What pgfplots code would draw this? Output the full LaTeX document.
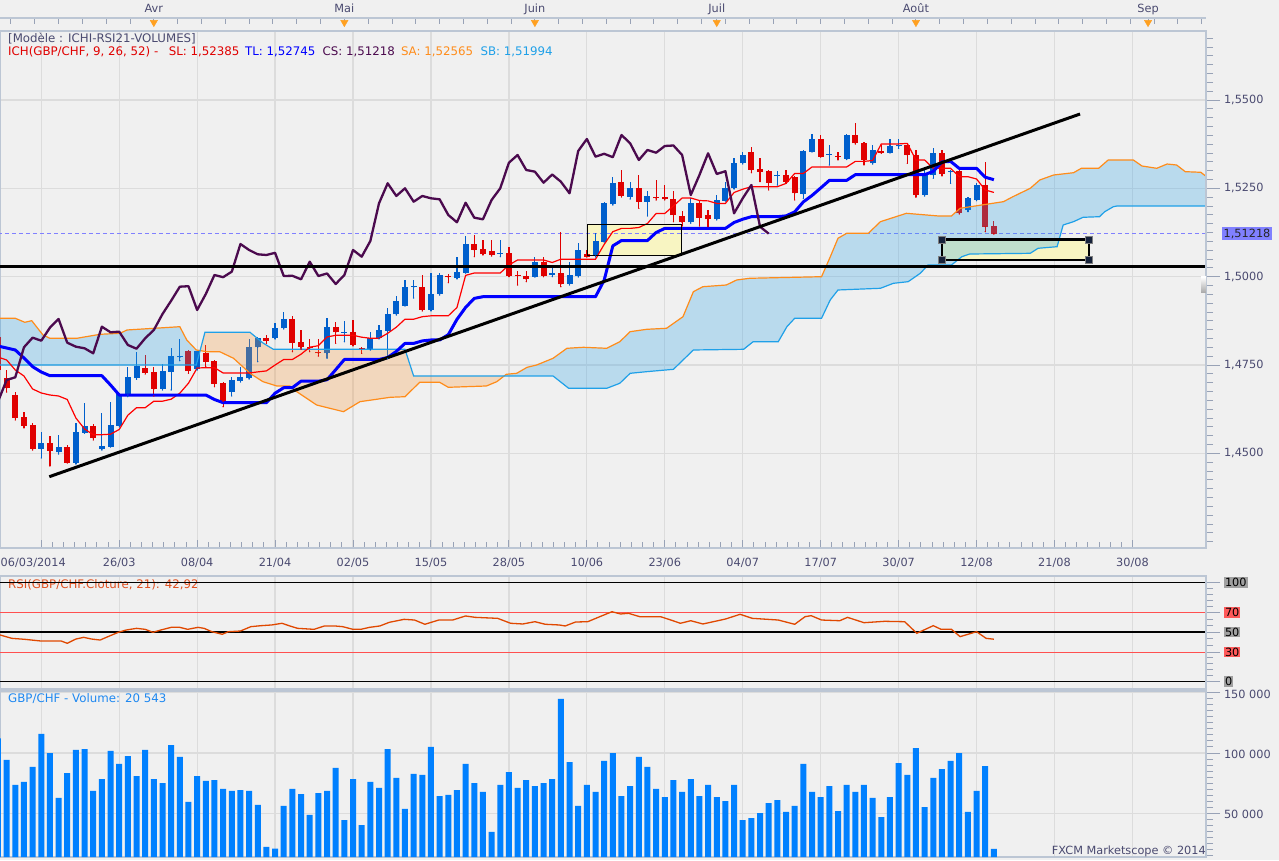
\documentclass[border=0pt]{standalone}
\usepackage{fontspec}
\setmainfont{DejaVu Sans}
\usepackage{pgfplots}
\pgfplotsset{compat=1.18}
\usepackage{pgfplotstable}

\definecolor{bgc}{HTML}{F0F0F0}
\definecolor{gridc}{HTML}{DCDCDC}
\definecolor{borderc}{HTML}{BCC6D4}
\definecolor{tickc}{HTML}{98A2B6}
\definecolor{labc}{HTML}{4A4A70}
\definecolor{upc}{HTML}{005FCC}
\definecolor{dnc}{HTML}{E00000}
\definecolor{tenc}{HTML}{FF0000}
\definecolor{kijc}{HTML}{0000FF}
\definecolor{chic}{HTML}{4B0A4E}
\definecolor{sac}{HTML}{FF8C1A}
\definecolor{sbc}{HTML}{1FA0E8}
\definecolor{cloudb}{HTML}{28A0E8}
\definecolor{cloudp}{HTML}{F89434}
\definecolor{volc}{HTML}{0080FF}
\definecolor{rsic}{HTML}{E04800}
\definecolor{rsired}{HTML}{FF5050}
\definecolor{yelc}{HTML}{F8F5C2}
\definecolor{dashc}{HTML}{8080FF}
\definecolor{pricebox}{HTML}{8080FF}
\definecolor{graybox}{HTML}{A0A0A0}
\definecolor{redbox}{HTML}{FF5A5A}
\definecolor{handlec}{HTML}{16223A}
\definecolor{monthc}{HTML}{FFA020}
\definecolor{volt}{HTML}{1E88F0}
\definecolor{rsit}{HTML}{E05020}

\newcommand\gb[1]{{\setlength{\fboxsep}{1pt}\colorbox{graybox}{\textcolor{black}{#1}}}}
\newcommand\rb[1]{{\setlength{\fboxsep}{1pt}\colorbox{redbox}{\textcolor{black}{#1}}}}

\pgfplotstableread{
d o h l c
-9 1.45124 1.45614 1.44869 1.45302
-7 1.45031 1.45520 1.44982 1.45189
-5 1.44736 1.45851 1.44700 1.45614
-4 1.45585 1.46417 1.45570 1.45775
-2 1.45115 1.46134 1.45096 1.45209
-1 1.45189 1.46446 1.45180 1.45803
0 1.45783 1.46709 1.45747 1.46672
1 1.46652 1.47436 1.46604 1.47153
2 1.47125 1.47861 1.47096 1.47473
5 1.46822 1.47529 1.46794 1.47331
6 1.47312 1.47974 1.46794 1.47756
7 1.47719 1.48228 1.47623 1.47747
9 1.47379 1.47926 1.47360 1.47897
13 1.46746 1.47170 1.46624 1.47077
14 1.47057 1.47436 1.47020 1.47153
15 1.47125 1.48228 1.47105 1.48002
16 1.48002 1.48294 1.47595 1.48274
18 1.48257 1.48681 1.48237 1.48557
19 1.48540 1.48993 1.48520 1.48803
24 1.47832 1.48823 1.47691 1.48585
26 1.48415 1.48746 1.48160 1.48444
29 1.47945 1.48444 1.47926 1.48257
30 1.48257 1.48633 1.48237 1.48492
31 1.48472 1.49106 1.47691 1.48944
32 1.48936 1.49454 1.48916 1.49321
33 1.49179 1.49907 1.49171 1.49717
34 1.49703 1.49907 1.49397 1.49731
36 1.49058 1.50096 1.49030 1.49510
37 1.49510 1.50096 1.49482 1.50048
39 1.49955 1.50566 1.49935 1.50142
40 1.50113 1.51160 1.50105 1.50925
44 1.50648 1.51039 1.50566 1.50676
48 1.50000 1.50566 1.49992 1.50425
50 1.50062 1.50303 1.50000 1.50091
52 1.49793 1.50425 1.49765 1.50048
53 1.50020 1.50945 1.49992 1.50756
55 1.50586 1.51245 1.50558 1.51010
56 1.50991 1.52114 1.50982 1.52077
57 1.52049 1.52830 1.52029 1.52643
59 1.52264 1.52689 1.52199 1.52502
61 1.52123 1.52434 1.51718 1.52284
66 1.51540 1.52219 1.51512 1.52094
69 1.51624 1.52312 1.51605 1.52171
70 1.52151 1.52689 1.52142 1.52502
71 1.52502 1.53351 1.52482 1.53226
72 1.53209 1.53538 1.53189 1.53444
76 1.52864 1.53000 1.52595 1.52892
79 1.52340 1.53586 1.52219 1.53557
80 1.53538 1.54038 1.53529 1.53897
82 1.53450 1.53727 1.53161 1.53478
84 1.53331 1.54038 1.53317 1.54010
87 1.53209 1.53727 1.53189 1.53586
89 1.53509 1.53888 1.53501 1.53699
90 1.53685 1.53888 1.53634 1.53713
93 1.52312 1.53020 1.52284 1.52878
94 1.52878 1.53634 1.52785 1.53492
96 1.52957 1.53020 1.52643 1.52986
98 1.51888 1.52256 1.51840 1.52219
99 1.52171 1.52643 1.52151 1.52595
}\upcandles

\pgfplotstableread{
d o h l c
-14 1.48302 1.48407 1.47275 1.47360
-13 1.47133 1.47360 1.46737 1.46850
-12 1.46652 1.46737 1.45945 1.46001
-11 1.46038 1.46171 1.45718 1.45775
-10 1.45803 1.45860 1.45096 1.45124
-8 1.45302 1.45500 1.44643 1.45067
-6 1.45189 1.45237 1.44728 1.44736
-3 1.45775 1.45823 1.45379 1.45427
3 1.47408 1.47784 1.47246 1.47283
4 1.47312 1.47453 1.46624 1.46822
8 1.47897 1.47926 1.47266 1.47331
10 1.47849 1.48067 1.47453 1.47595
11 1.47614 1.47643 1.46887 1.46963
12 1.46983 1.47020 1.46321 1.46463
17 1.48257 1.48350 1.48115 1.48189
20 1.48794 1.48888 1.47878 1.48132
21 1.48144 1.48492 1.47945 1.48019
22 1.48019 1.48228 1.47878 1.47974
23 1.47869 1.48228 1.47756 1.47832
25 1.48585 1.48710 1.48115 1.48427
27 1.48427 1.48775 1.48039 1.48067
28 1.47991 1.48019 1.47832 1.47962
35 1.49717 1.50048 1.49030 1.49058
38 1.50014 1.50076 1.49830 1.49986
41 1.50925 1.51180 1.50566 1.50756
42 1.50775 1.51039 1.50614 1.50634
43 1.50741 1.51039 1.50586 1.50614
45 1.50662 1.50849 1.50000 1.50020
46 1.50054 1.50170 1.49765 1.50025
47 1.50020 1.50161 1.49859 1.49926
49 1.50425 1.50566 1.50000 1.50020
51 1.50096 1.51274 1.49717 1.49793
54 1.50642 1.50756 1.50558 1.50566
58 1.52689 1.53020 1.52256 1.52284
60 1.52502 1.52878 1.51936 1.52123
62 1.52264 1.52737 1.52171 1.52219
63 1.52247 1.52595 1.52171 1.52190
64 1.52199 1.52434 1.51557 1.51746
65 1.51726 1.51868 1.51435 1.51540
67 1.52094 1.52171 1.51435 1.51670
68 1.51746 1.51888 1.51415 1.51624
73 1.53538 1.53679 1.52943 1.53020
74 1.53039 1.53368 1.52689 1.52972
75 1.52991 1.53020 1.52454 1.52660
77 1.52878 1.53020 1.52643 1.52689
78 1.52830 1.52850 1.52171 1.52360
81 1.53897 1.54010 1.53387 1.53396
83 1.53410 1.53538 1.53303 1.53382
85 1.54010 1.54358 1.53755 1.53775
86 1.53775 1.53812 1.53161 1.53303
88 1.53566 1.53727 1.53492 1.53509
91 1.53727 1.53755 1.53209 1.53444
92 1.53444 1.53586 1.52247 1.52312
95 1.53509 1.53586 1.52850 1.52906
97 1.53000 1.53048 1.51774 1.51794
100 1.52595 1.53255 1.51274 1.51415
101 1.51435 1.51576 1.51208 1.51218
}\dncandles

\pgfplotstableread{
d p
-14 1.47727
-13 1.47643
-12 1.47360
-11 1.47190
-10 1.46822
-9 1.46709
-8 1.46652
-7 1.46624
-6 1.46525
-5 1.46001
-4 1.45690
-3 1.45529
-2 1.45529
-1 1.45543
0 1.45676
1 1.46080
2 1.46293
3 1.46293
4 1.46477
5 1.46477
6 1.46533
7 1.46703
8 1.46986
9 1.47416
10 1.47425
11 1.47425
12 1.47275
13 1.47275
14 1.47275
15 1.47275
16 1.47306
17 1.47334
18 1.47501
19 1.47657
20 1.47657
21 1.47807
22 1.48005
23 1.48047
24 1.48294
25 1.48342
26 1.48342
27 1.48342
28 1.48288
29 1.48257
30 1.48257
31 1.48398
32 1.48571
33 1.48797
34 1.48797
35 1.48868
36 1.48893
37 1.48893
38 1.48893
39 1.49128
40 1.50037
41 1.50105
42 1.50105
43 1.50105
44 1.50105
45 1.50331
46 1.50473
47 1.50473
48 1.50473
49 1.50473
50 1.50402
51 1.50495
52 1.50495
53 1.50495
54 1.50495
55 1.50495
56 1.50914
57 1.51274
58 1.51367
59 1.51367
60 1.51392
61 1.51506
62 1.51789
63 1.51789
64 1.52001
65 1.52227
66 1.52227
67 1.52156
68 1.52145
69 1.52074
70 1.52074
71 1.52383
72 1.52476
73 1.52547
74 1.52547
75 1.52547
76 1.52547
77 1.52640
78 1.52923
79 1.52923
80 1.53105
81 1.53105
82 1.53105
83 1.53105
84 1.53105
85 1.53263
86 1.53263
87 1.53288
88 1.53758
89 1.53758
90 1.53758
91 1.53772
92 1.53303
93 1.53303
94 1.53068
95 1.53068
96 1.53068
97 1.52830
98 1.52830
99 1.52765
100 1.52454
101 1.52385
}\tenkan

\pgfplotstableread{
d p
-14 1.48039
-13 1.47982
-12 1.47926
-11 1.47699
-10 1.47453
-9 1.47303
-8 1.47198
-7 1.47198
-6 1.47198
-5 1.47198
-4 1.47198
-3 1.47198
-2 1.47198
-1 1.46935
0 1.46652
1 1.46652
2 1.46652
3 1.46652
4 1.46652
5 1.46652
6 1.46652
7 1.46652
8 1.46652
9 1.46652
10 1.46652
11 1.46525
12 1.46434
13 1.46434
14 1.46434
15 1.46434
16 1.46434
17 1.46434
18 1.46703
19 1.46859
20 1.46859
21 1.47043
22 1.47043
23 1.47043
24 1.47085
25 1.47368
26 1.47657
27 1.47657
28 1.47657
29 1.47657
30 1.47657
31 1.47713
32 1.47886
33 1.48112
34 1.48112
35 1.48183
36 1.48209
37 1.48209
38 1.48359
39 1.48792
40 1.49131
41 1.49386
42 1.49434
43 1.49434
44 1.49434
45 1.49434
46 1.49434
47 1.49434
48 1.49434
49 1.49434
50 1.49434
51 1.49434
52 1.49434
53 1.49434
54 1.49434
55 1.49434
56 1.49901
57 1.50872
58 1.51024
59 1.51024
60 1.51024
61 1.51024
62 1.51251
63 1.51367
64 1.51367
65 1.51367
66 1.51367
67 1.51367
68 1.51367
69 1.51367
70 1.51367
71 1.51534
72 1.51627
73 1.51698
74 1.51698
75 1.51698
76 1.51698
77 1.51721
78 1.51834
79 1.52117
80 1.52298
81 1.52510
82 1.52725
83 1.52725
84 1.52725
85 1.52887
86 1.52887
87 1.52887
88 1.52887
89 1.52887
90 1.52887
91 1.52887
92 1.52887
93 1.52887
94 1.52980
95 1.53249
96 1.53263
97 1.53065
98 1.53065
99 1.53065
100 1.52816
101 1.52745
}\kijun

\pgfplotstableread{
d p
-14 1.46463
-13 1.47077
-12 1.47153
-11 1.48002
-10 1.48274
-9 1.48189
-8 1.48557
-7 1.48803
-6 1.48132
-5 1.48019
-4 1.47974
-3 1.47832
-2 1.48585
-1 1.48427
0 1.48444
1 1.48067
2 1.47962
3 1.48257
4 1.48492
5 1.48944
6 1.49321
7 1.49717
8 1.49731
9 1.49058
10 1.49510
11 1.50048
12 1.49986
13 1.50142
14 1.50925
15 1.50756
16 1.50634
17 1.50614
18 1.50676
19 1.50020
20 1.50025
21 1.49926
22 1.50425
23 1.50020
24 1.50091
25 1.49793
26 1.50048
27 1.50756
28 1.50566
29 1.51010
30 1.52077
31 1.52643
32 1.52284
33 1.52502
34 1.52123
35 1.52284
36 1.52219
37 1.52190
38 1.51746
39 1.51540
40 1.52094
41 1.51670
42 1.51624
43 1.52171
44 1.52502
45 1.53226
46 1.53444
47 1.53020
48 1.52972
49 1.52660
50 1.52892
51 1.52689
52 1.52360
53 1.53557
54 1.53897
55 1.53396
56 1.53478
57 1.53382
58 1.54010
59 1.53775
60 1.53303
61 1.53586
62 1.53509
63 1.53699
64 1.53713
65 1.53444
66 1.52312
67 1.52878
68 1.53492
69 1.52906
70 1.52986
71 1.51794
72 1.52219
73 1.52595
74 1.51415
75 1.51218
}\chikou

\pgfplotstableread{
d p
-14 1.48823
-12 1.48823
-10.9 1.48710
-10.1 1.48755
-8.8 1.48350
-8 1.48257
-4.9 1.48257
-2.2 1.48370
0.1 1.48398
0.9 1.48492
7 1.48585
7.8 1.48209
8.9 1.47926
10.1 1.47878
11.6 1.47878
13.2 1.47691
15.1 1.47266
16.6 1.47029
18.2 1.46907
19.7 1.46907
20.5 1.46746
22.8 1.46369
25.9 1.46180
27.8 1.46463
31.3 1.46587
33 1.46604
34.7 1.47012
37 1.47012
38 1.46870
42.4 1.46907
43.6 1.47029
44.7 1.47238
45.9 1.47266
47.1 1.47436
48.2 1.47501
50.1 1.47691
51.7 1.47974
53.6 1.48002
56.3 1.47974
57.8 1.48160
59 1.48444
60.9 1.48511
63.2 1.48540
65.1 1.48868
66.3 1.49576
67.4 1.49717
70.1 1.49765
71.3 1.49907
72.8 1.49955
81.1 1.50000
82.1 1.50558
83 1.51087
84 1.51228
86.5 1.51228
87.9 1.51557
90.9 1.51794
94.6 1.51718
96.1 1.51718
97.1 1.51936
102.1 1.52123
103.2 1.52264
105.2 1.52502
106.3 1.52737
107.9 1.52878
110.2 1.52943
111.1 1.53068
113.1 1.53068
114.2 1.53303
117.1 1.53303
118.1 1.53133
119.8 1.53068
121 1.53189
122.1 1.53161
123.1 1.52972
124.9 1.52955
126 1.52737
}\senkouA

\pgfplotstableread{
d p
-14 1.47501
8.9 1.47501
9.9 1.48427
15.1 1.48427
16.6 1.48124
17.8 1.47945
33 1.47945
34 1.47190
50.1 1.47190
51.9 1.46842
56.3 1.46842
57.8 1.46983
59 1.47266
60.9 1.47312
64 1.47379
65.5 1.47736
66.3 1.47926
72.1 1.47945
73.2 1.48160
76.1 1.48160
77.1 1.48585
78 1.48823
81.1 1.48823
82.1 1.49341
83 1.49624
87.9 1.49672
89.4 1.49813
91.1 1.49859
92.5 1.50096
93.4 1.50331
96.1 1.50331
97.3 1.50566
98.2 1.50642
105.2 1.50662
106.1 1.50804
108.3 1.50849
109 1.51463
110.2 1.51557
111.3 1.51681
113.2 1.51698
113.8 1.51840
114.8 1.51981
115.2 1.52000
126 1.52000
}\senkouB

\pgfplotstableread{
d p
-14 1.48823
-12 1.48823
-10.9 1.48710
-10.1 1.48755
-8.8 1.48350
-8 1.48257
-4.9 1.48257
-2.2 1.48370
0.1 1.48398
0.9 1.48492
7 1.48585
7.8 1.48209
8.9 1.47926
9.36 1.47910
8.9 1.47501
-14 1.47501
}\cloudone
\pgfplotstableread{
d p
9.36 1.47910
9.9 1.48427
15.1 1.48427
16.6 1.48124
17.8 1.47945
33 1.47945
34 1.47190
44.45 1.47190
43.6 1.47029
42.4 1.46907
38 1.46870
37 1.47012
34.7 1.47012
33 1.46604
31.3 1.46587
27.8 1.46463
25.9 1.46180
22.8 1.46369
20.5 1.46746
19.7 1.46907
18.2 1.46907
16.6 1.47029
15.1 1.47266
13.2 1.47691
11.6 1.47878
10.1 1.47878
}\cloudtwo
\pgfplotstableread{
d p
44.45 1.47190
44.7 1.47238
45.9 1.47266
47.1 1.47436
48.2 1.47501
50.1 1.47691
51.7 1.47974
53.6 1.48002
56.3 1.47974
57.8 1.48160
59 1.48444
60.9 1.48511
63.2 1.48540
65.1 1.48868
66.3 1.49576
67.4 1.49717
70.1 1.49765
71.3 1.49907
72.8 1.49955
81.1 1.50000
82.1 1.50558
83 1.51087
84 1.51228
86.5 1.51228
87.9 1.51557
90.9 1.51794
94.6 1.51718
96.1 1.51718
97.1 1.51936
102.1 1.52123
103.2 1.52264
105.2 1.52502
106.3 1.52737
107.9 1.52878
110.2 1.52943
111.1 1.53068
113.1 1.53068
114.2 1.53303
117.1 1.53303
118.1 1.53133
119.8 1.53068
121 1.53189
122.1 1.53161
123.1 1.52972
124.9 1.52955
126 1.52737
126 1.52000
115.2 1.52000
114.8 1.51981
113.8 1.51840
113.2 1.51698
111.3 1.51681
110.2 1.51557
109 1.51463
108.3 1.50849
106.1 1.50804
105.2 1.50662
98.2 1.50642
97.3 1.50566
96.1 1.50331
93.4 1.50331
92.5 1.50096
91.1 1.49859
89.4 1.49813
87.9 1.49672
83 1.49624
82.1 1.49341
81.1 1.48823
78 1.48823
77.1 1.48585
76.1 1.48160
73.2 1.48160
72.1 1.47945
66.3 1.47926
65.5 1.47736
64 1.47379
60.9 1.47312
59 1.47266
57.8 1.46983
56.3 1.46842
51.9 1.46842
50.1 1.47190
}\cloudthree

\pgfplotstableread{
d v
-13.76 47.2
-12.4 43.8
-10.9 42.8
-9.05 41.1
-6.7 41.1
-6.0 38.8
-5.0 43.1
-4.1 44.8
-3.2 43.1
-2.2 42.1
-1.3 45.5
-0.1 49.9
0.8 52.2
2.0 53.9
3.0 52.9
3.9 49.9
4.8 52.2
6.0 54.9
7.0 54.9
7.9 52.9
9.1 54.9
9.8 53.9
10.7 50.5
11.9 47.9
12.6 50.5
14.0 51.2
15.2 55.6
16.4 56.6
17.6 57.3
18.8 59.0
19.7 56.3
20.6 53.9
22.5 52.9
23.7 56.3
24.9 56.3
25.8 55.6
27.0 52.9
27.9 52.9
28.9 54.9
30.1 56.3
31.2 60.0
32.9 63.0
34.1 62.3
35.3 58.0
36.9 62.3
38.5 62.3
40.0 66.4
41.1 65.0
43.7 64.0
45.2 59.0
46.6 58.3
48.0 60.6
49.2 58.0
50.8 57.3
51.5 56.3
52.7 60.3
54.1 60.6
55.5 65.7
56.9 70.7
57.9 68.4
58.8 69.1
60.1 65.7
62.5 65.7
63.7 62.3
64.8 59.0
66.0 61.6
67.4 58.3
68.6 60.6
70.0 63.3
71.7 68.1
73.1 64.0
76.1 62.3
78.0 58.0
79.2 65.7
79.9 66.7
81.1 62.3
83.2 61.6
84.1 65.0
86.0 59.6
88.4 61.0
90.7 60.6
92.1 48.9
94.0 56.6
94.9 52.9
96.1 52.9
97.1 45.5
99.0 50.5
100.1 43.8
101.0 42.92
}\rsitab

\pgfplotstableread{
d v
-14 112200
-13 94200
-12 73500
-11 76000
-10 88400
-9 115800
-8 100000
-7 62700
-6 83400
-5 102500
-4 103300
-3 68500
-2 78400
-1 101700
0 90900
1 97500
2 80900
3 102500
4 78400
5 75100
6 106600
7 96700
8 59400
9 80900
10 76800
11 77600
12 70200
13 68500
14 69300
15 68500
16 56900
17 22100
18 20800
19 56100
20 70200
21 66000
22 48600
23 66800
24 68500
25 87600
26 44400
27 78400
28 40300
29 76000
30 71000
31 103300
32 79300
33 53600
34 82600
35 81800
36 105000
37 64300
38 65200
39 69300
40 90900
41 75100
42 67700
43 34500
44 73500
45 84200
46 71000
47 77600
48 72600
49 75100
50 78400
51 144800
52 92500
53 56100
54 73500
55 67700
56 93400
57 100000
58 64300
59 72600
60 96700
61 88400
62 70200
63 63500
64 77600
65 67700
66 78400
67 64300
68 73500
69 63500
70 60200
71 73500
72 44400
73 46100
74 50200
75 58500
76 61000
77 51100
78 56100
79 90900
80 67700
81 63500
82 72600
83 51900
84 73500
85 67700
86 73500
87 62700
88 46900
89 63500
90 91700
91 81800
92 104100
93 55200
94 79300
95 86700
96 93400
97 100000
98 51100
99 68500
100 89200
101 20543
}\voltab

\pgfplotsset{
  panel/.style={scale only axis, anchor=south west, width=1206pt,
    xmin=-13.7644, xmax=125.497,
    axis line style={draw=borderc, line width=1.5pt},
    xtick={-9,0,...,117}, xmajorgrids,
    major grid style={draw=gridc, line width=1.2pt},
    tick style={draw=tickc, line width=1pt},
    ticklabel style={font=\fontsize{11.3}{13}\selectfont, text=labc},
    /pgf/number format/assume math mode=true},
  scalepanel/.style={scale only axis, anchor=south west, width=1206pt,
    xmin=-13.7644, xmax=125.497,
    axis x line=none, axis y line*=right,
    axis line style={draw=borderc, line width=1.5pt},
    tick align=outside, major tick length=14pt, minor tick length=7pt,
    tick style={draw=tickc, line width=1pt},
    yticklabel style={font=\fontsize{11.3}{13}\selectfont, text=labc, anchor=west},
    /pgf/number format/assume math mode=true},
}

\begin{document}
\fontsize{11.3}{13}\selectfont
\begin{tikzpicture}[x=1pt,y=1pt]
\fill[bgc] (0,0) rectangle (1279,860);

% ---------------- Volume panel
\begin{axis}[panel, at={(0pt,3pt)}, height=166pt, ymin=13765, ymax=151412,
  ytick={50000,100000,150000}, ymajorgrids, yticklabels={}, ytick style={draw=none},
  xticklabels={}, xtick style={draw=none}, scaled y ticks=false]
\addplot[ybar, bar width=6pt, fill=volc, draw=none] table[x=d, y=v] {\voltab};
\end{axis}
\begin{axis}[scalepanel, at={(0pt,3pt)}, height=166pt, ymin=13765, ymax=151412,
  ytick={50000,100000,150000}, scaled y ticks=false,
  yticklabels={{50 000},{100 000},{150 000}},
  yticklabel style={yshift=-1.5pt},
  minor ytick={15000,20000,...,145000}]
\addplot[draw=none] coordinates {(0,50000)};
\end{axis}

% ---------------- RSI panel
\node[anchor=base west, inner sep=0pt, text=rsit, font=\fontsize{11.8}{13}\selectfont] at (8,272) {RSI(GBP/CHF.Cloture, 21): 42,92};
\begin{axis}[panel, at={(0pt,171pt)}, height=113pt, ymin=-7.374, ymax=106.77,
  ytick=\empty, xticklabels={}, xtick style={draw=none}]
\addplot[black, line width=1.5pt] coordinates {(-14,100) (126,100)};
\addplot[black, line width=1.5pt] coordinates {(-14,50) (126,50)};
\addplot[black, line width=1.5pt] coordinates {(-14,0) (126,0)};
\addplot[rsired, line width=1pt] coordinates {(-14,70) (126,70)};
\addplot[rsired, line width=1pt] coordinates {(-14,30) (126,30)};
\addplot[rsic, line width=1.3pt] table[x=d, y=v] {\rsitab};
\end{axis}
\begin{axis}[scalepanel, at={(0pt,171pt)}, height=113pt, ymin=-7.374, ymax=106.77,
  ytick={0,30,50,70,100},
  yticklabels={\gb{0},\rb{30},\gb{50},\rb{70},\gb{100}},
  minor ytick={6,12,18,24,36.7,43.3,56.7,63.3,76,82,88,94}]
\addplot[draw=none] coordinates {(0,50)};
\end{axis}

% ---------------- main price panel
\begin{axis}[panel, at={(0pt,312pt)}, height=517pt,
  ymin=1.4232221, ymax=1.5695331,
  ytick={1.45,1.475,1.5,1.525,1.55}, ymajorgrids, yticklabels={},
  ytick style={draw=none},
  xtick pos=bottom, minor x tick num=6,
  major tick length=8pt, minor tick length=6pt,
  typeset ticklabels with strut,
  xticklabels={,26/03,08/04,21/04,02/05,15/05,28/05,10/06,23/06,04/07,17/07,30/07,12/08,21/08,30/08},
  xticklabel style={yshift=-5pt}]

\addplot[fill=yelc, draw=none] coordinates {(54.05,1.50586) (64.95,1.50586) (64.95,1.51483) (54.05,1.51483)} -- cycle;
\addplot[fill=yelc, draw=none] coordinates {(94.98,1.50473) (111.99,1.50473) (111.99,1.51058) (94.98,1.51058)} -- cycle;

\addplot[dashc, line width=1pt, dash pattern=on 4pt off 3pt] coordinates {(-14,1.51218) (126,1.51218)};

% candles: wicks then bodies (marks coloured like the candle and tiny)
\addplot[color=upc, only marks, mark=*, mark size=0.4pt, mark options={draw=upc, fill=upc},
  error bars/.cd, y dir=plus, y explicit, error mark=none,
  error bar style={line width=1.2pt, draw=upc}]
  table[x=d, y=l, y error expr=\thisrow{h}-\thisrow{l}] {\upcandles};
\addplot[color=dnc, only marks, mark=*, mark size=0.4pt, mark options={draw=dnc, fill=dnc},
  error bars/.cd, y dir=plus, y explicit, error mark=none,
  error bar style={line width=1.2pt, draw=dnc}]
  table[x=d, y=l, y error expr=\thisrow{h}-\thisrow{l}] {\dncandles};
\addplot[color=upc, only marks, mark=*, mark size=0.4pt, mark options={draw=upc, fill=upc},
  error bars/.cd, y dir=plus, y explicit, error mark=none,
  error bar style={line width=6pt, draw=upc}]
  table[x=d, y=o, y error expr=\thisrow{c}-\thisrow{o}] {\upcandles};
\addplot[color=dnc, only marks, mark=*, mark size=0.4pt, mark options={draw=dnc, fill=dnc},
  error bars/.cd, y dir=plus, y explicit, error mark=none,
  error bar style={line width=6pt, draw=dnc}]
  table[x=d, y=c, y error expr=\thisrow{o}-\thisrow{c}] {\dncandles};

\addplot[fill=cloudb, fill opacity=0.27, draw=none] table[x=d, y=p] {\cloudone} -- cycle;
\addplot[fill=cloudp, fill opacity=0.27, draw=none] table[x=d, y=p] {\cloudtwo} -- cycle;
\addplot[fill=cloudb, fill opacity=0.27, draw=none] table[x=d, y=p] {\cloudthree} -- cycle;
\addplot[sac, line width=1.2pt] table[x=d, y=p] {\senkouA};
\addplot[sbc, line width=1.2pt] table[x=d, y=p] {\senkouB};

\addplot[tenc, line width=1.2pt] table[x=d, y=p] {\tenkan};
\addplot[kijc, line width=3pt, line join=round] table[x=d, y=p] {\kijun};
\addplot[chic, line width=2.3pt, line join=round] table[x=d, y=p] {\chikou};

\addplot[black, line width=3pt] coordinates {(-14,1.50283) (126,1.50283)};
\addplot[black, line width=3pt] coordinates {(-8.07,1.44340) (110.95,1.54604)};

\addplot[black, line width=1pt] coordinates {(54.05,1.50586) (64.95,1.50586) (64.95,1.51483) (54.05,1.51483)} -- cycle;
\addplot[black, line width=2.5pt] coordinates {(94.98,1.50473) (111.99,1.50473) (111.99,1.51058) (94.98,1.51058)} -- cycle;
\addplot[only marks, mark=square*, mark size=3.5pt, mark options={fill=handlec, draw=gray}]
  coordinates {(94.98,1.50473) (111.99,1.50473) (111.99,1.51058) (94.98,1.51058)};
\end{axis}

\begin{axis}[scalepanel, at={(0pt,312pt)}, height=517pt,
  ymin=1.4232221, ymax=1.5695331,
  ytick={1.45,1.475,1.5,1.525,1.55},
  yticklabels={{1,4500},{1,4750},{1,5000},{1,5250},{1,5500}},
  minor ytick={1.425,1.4275,...,1.5675}]
\addplot[draw=none] coordinates {(0,1.5)};
\end{axis}

% ---------------- top month strip
\begin{axis}[scale only axis, anchor=south west, at={(0pt,829pt)}, width=1206pt, height=13pt,
  xmin=-13.7644, xmax=125.497, ymin=0, ymax=13,
  axis x line*=top, axis y line=none,
  axis line style={draw=borderc, line width=1.5pt},
  xtick={4,26,48,69,92,118.8}, xticklabels={Avr,Mai,Juin,Juil,Août,Sep},
  minor xtick={-12.5,-9.75,...,125},
  tick align=inside, major tick length=6pt, minor tick length=6pt,
  tick style={draw=tickc, line width=1pt},
  typeset ticklabels with strut,
  xticklabel style={font=\fontsize{11.3}{13}\selectfont, text=labc, yshift=-2.2pt},
  clip=false]
\addplot[only marks, mark=triangle*, mark size=4.2pt,
  mark options={rotate=180, fill=monthc, draw=monthc}]
  coordinates {(4,8.5) (26,8.5) (48,8.5) (69,8.5) (92,8.5) (118.8,8.5)};
\end{axis}

% ---------------- texts
\begin{scope}[every node/.style={inner sep=0pt, font=\fontsize{11.8}{13}\selectfont}]
\node[anchor=base west, text=volt] at (8,158) {GBP/CHF - Volume: 20 543};
\node[anchor=base west, text=labc] at (8,817) {[Modèle : ICHI-RSI21-VOLUMES]};
\node[anchor=base west, text=dnc] at (8,804) {ICH(GBP/CHF, 9, 26, 52) -};
\node[anchor=base west, text=dnc] at (168.6,804) {SL: 1,52385};
\node[anchor=base west, text=kijc] at (245,804) {TL: 1,52745};
\node[anchor=base west, text=chic] at (322.4,804) {CS: 1,51218};
\node[anchor=base west, text=sac] at (400.8,804) {SA: 1,52565};
\node[anchor=base west, text=sbc] at (480.4,804) {SB: 1,51994};
\end{scope}
\node[anchor=base west, inner sep=0pt, text=labc] at (0.5,294) {06/03/2014};
\node[anchor=base east, inner sep=0pt, text=labc] at (1206,6) {FXCM Marketscope © 2014};
\node[anchor=west, fill=pricebox, inner sep=1.5pt, text=black!85] at (1222,626.4) {1,51218};
\shade[top color=white, bottom color=black!35] (1201,567) rectangle (1206,583);

\pgfresetboundingbox
\useasboundingbox (0,0) rectangle (1279,860);
\end{tikzpicture}
\end{document}
